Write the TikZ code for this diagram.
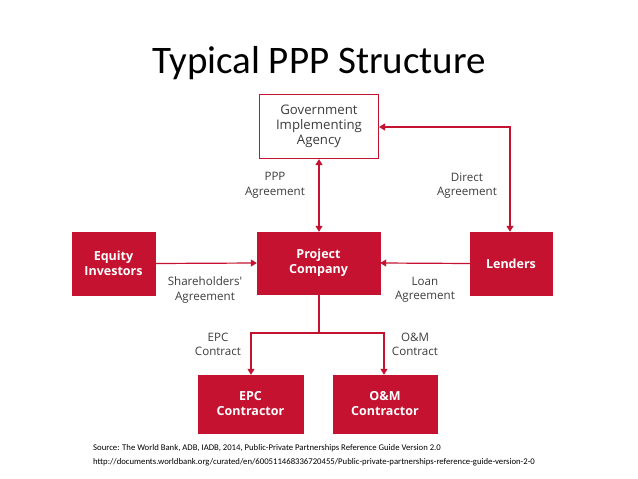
\documentclass[tikz,border=0pt]{standalone}
\usepackage{fontspec}
\setmainfont{Carlito}
\newfontfamily\boxfont{Open Sans}
\usetikzlibrary{arrows.meta}
\definecolor{pppred}{RGB}{196,18,48}
\definecolor{lblgray}{RGB}{60,60,60}
\begin{document}
\begin{tikzpicture}[x=1pt,y=-1pt,
  redbox/.style={draw=pppred,fill=pppred,text=white,font=\boxfont\bfseries\fontsize{12.5}{15}\selectfont,align=center,inner sep=0pt},
  whitebox/.style={draw=pppred,line width=1.2pt,fill=white,text=lblgray,font=\boxfont\fontsize{13.2}{15}\selectfont,align=center,inner sep=0pt},
  lbl/.style={text=lblgray,font=\boxfont\fontsize{11.6}{14.5}\selectfont,align=center,inner sep=0pt},
  conn/.style={draw=pppred,line width=1.2pt,-{Triangle[width=7pt,length=6pt]}},
  conn2/.style={draw=pppred,line width=1.2pt,{Triangle[width=7pt,length=6pt]}-{Triangle[width=7pt,length=6pt]}},
  plain/.style={draw=pppred,line width=1.2pt}]
\useasboundingbox (0,0) rectangle (638,479);
\node[font=\fontsize{39}{44}\selectfont] (title) at (319,63) {Typical PPP Structure};
\node[whitebox,minimum width=119pt,minimum height=64pt] (gov) at (319,126.5) {Government\\Implementing\\Agency};
\node[redbox,minimum width=123pt,minimum height=62pt] (pc) at (318.5,263) {Project\\Company};
\node[redbox,minimum width=83pt,minimum height=63pt] (eq) at (113.5,263.5) {Equity\\Investors};
\node[redbox,minimum width=82pt,minimum height=63pt] (len) at (511,263.5) {Lenders};
\node[redbox,minimum width=105pt,minimum height=58pt] (epc) at (250.5,404) {EPC\\Contractor};
\node[redbox,minimum width=104pt,minimum height=58pt] (om) at (385,404) {O\&M\\Contractor};
\coordinate (dacorner) at (510,127);
\coordinate (split) at (319,333);
\coordinate (splitl) at (251,333);
\coordinate (splitr) at (384,333);
\draw[conn2] (pc.north -| 319,0) -- (gov.south -| 319,0);
\draw[conn2] (gov.east |- dacorner) -- (dacorner) -- (len.north -| dacorner);
\draw[conn] (eq.east) -- (pc.west);
\draw[conn] (len.west) -- (pc.east);
\draw[plain] (pc.south -| split) -- (split);
\draw[conn] (split) -- (splitl) -- (epc.north -| splitl);
\draw[conn] (split) -- (splitr) -- (om.north -| splitr);
\node[lbl] (lppp) at (275,185.5) {PPP\\Agreement};
\node[lbl] (lda) at (467,185.5) {Direct\\Agreement};
\node[lbl] (lsh) at (205,290) {Shareholders'\\Agreement};
\node[lbl] (lloan) at (425,290) {Loan\\Agreement};
\node[lbl] (lepc) at (218,344.5) {EPC\\Contract};
\node[lbl] (lom) at (415,344.5) {O\&M\\Contract};
\node[anchor=north west,align=left,font=\fontsize{8.7}{14}\selectfont,inner sep=0pt] (src) at (93,444) {Source: The World Bank, ADB, IADB, 2014, Public-Private Partnerships Reference Guide Version 2.0\\http://documents.worldbank.org/curated/en/600511468336720455/Public-private-partnerships-reference-guide-version-2-0};
\end{tikzpicture}
\end{document}
